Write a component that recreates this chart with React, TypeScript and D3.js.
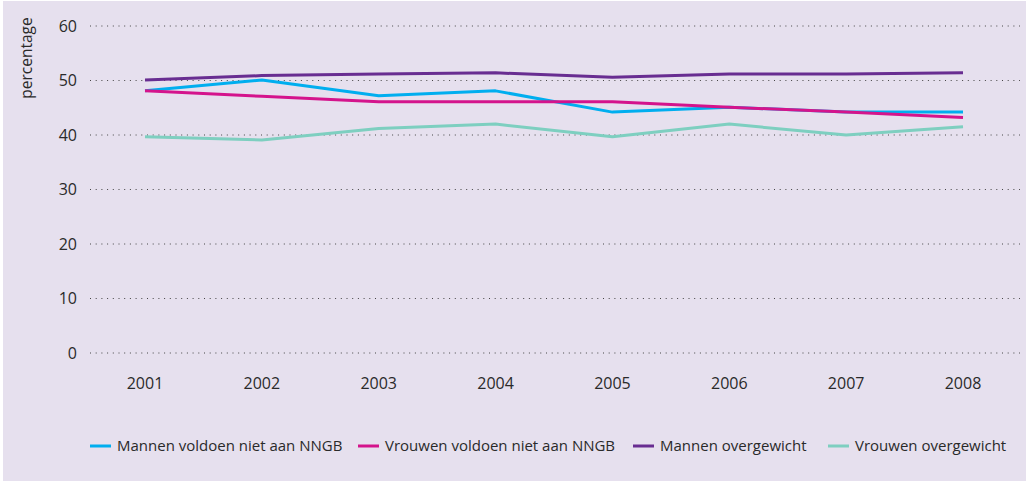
import React from "react";
import * as d3 from "d3";

const years = [2001, 2002, 2003, 2004, 2005, 2006, 2007, 2008];
const yTicks = [0, 10, 20, 30, 40, 50, 60];
const seriesNames = [
  "Mannen voldoen niet aan NNGB",
  "Vrouwen voldoen niet aan NNGB",
  "Mannen overgewicht",
  "Vrouwen overgewicht",
];
const seriesColors = ["#00aeef", "#d4148c", "#682d91", "#7ecfc0"];
const mannenNNGB = [48.1, 50.1, 47.2, 48.1, 44.2, 45.1, 44.2, 44.2];
const vrouwenNNGB = [48.1, 47.1, 46.1, 46.1, 46.1, 45.1, 44.2, 43.2];
const mannenOvergewicht = [50.1, 50.9, 51.2, 51.4, 50.6, 51.2, 51.2, 51.4];
const vrouwenOvergewicht = [39.7, 39.1, 41.2, 42.0, 39.7, 42.0, 40.0, 41.5];
const seriesValues = [mannenNNGB, vrouwenNNGB, mannenOvergewicht, vrouwenOvergewicht];

const W = 1026;
const H = 481;
const FONT = "'Open Sans', sans-serif";

export default function App() {
  const x = d3.scaleLinear().domain([2001, 2008]).range([145, 963]);
  const y = d3.scaleLinear().domain([0, 60]).range([353, 26]);
  const line = d3
    .line<number>()
    .x((_, i) => x(years[i]))
    .y((d) => y(d));

  const legendX = [90, 358, 633, 828];

  return (
    <div style={{ position: "absolute", left: 0, top: 0 }}>
      <svg width={W} height={H} style={{ display: "block" }}>
        <rect x={0} y={0} width={W} height={H} fill="#ffffff" />
        <rect x={3} y={1} width={W - 3} height={H - 1} fill="#e6e0ee" />
        {yTicks.map((t) => (
          <g key={t}>
            <line
              x1={90}
              x2={1020}
              y1={y(t)}
              y2={y(t)}
              stroke="#444"
              strokeWidth={1}
              strokeDasharray="1,4.7"
            />
            <text
              x={77}
              y={y(t)}
              dy="0.35em"
              textAnchor="end"
              fontFamily={FONT}
              fontSize={16}
              fill="#2a2a2a"
            >
              {t}
            </text>
          </g>
        ))}
        {years.map((yr) => (
          <text
            key={yr}
            x={x(yr)}
            y={383}
            dy="0.35em"
            textAnchor="middle"
            fontFamily={FONT}
            fontSize={16}
            fill="#2a2a2a"
          >
            {yr}
          </text>
        ))}
        <text
          transform="translate(27,58) rotate(-90)"
          textAnchor="middle"
          dy="0.35em"
          fontFamily={FONT}
          fontSize={15.5}
          fill="#2a2a2a"
        >
          percentage
        </text>
        {seriesValues.map((vals, i) => (
          <path
            key={i}
            d={line(vals) || ""}
            fill="none"
            stroke={seriesColors[i]}
            strokeWidth={3}
            strokeLinejoin="round"
          />
        ))}
        {seriesNames.map((name, i) => (
          <g key={name} transform={`translate(${legendX[i]},446)`}>
            <line x1={0} x2={21} y1={0} y2={0} stroke={seriesColors[i]} strokeWidth={3} />
            <text
              x={27}
              y={0}
              dy="0.35em"
              fontFamily={FONT}
              fontSize={15}
              fill="#2a2a2a"
            >
              {name}
            </text>
          </g>
        ))}
      </svg>
    </div>
  );
}
